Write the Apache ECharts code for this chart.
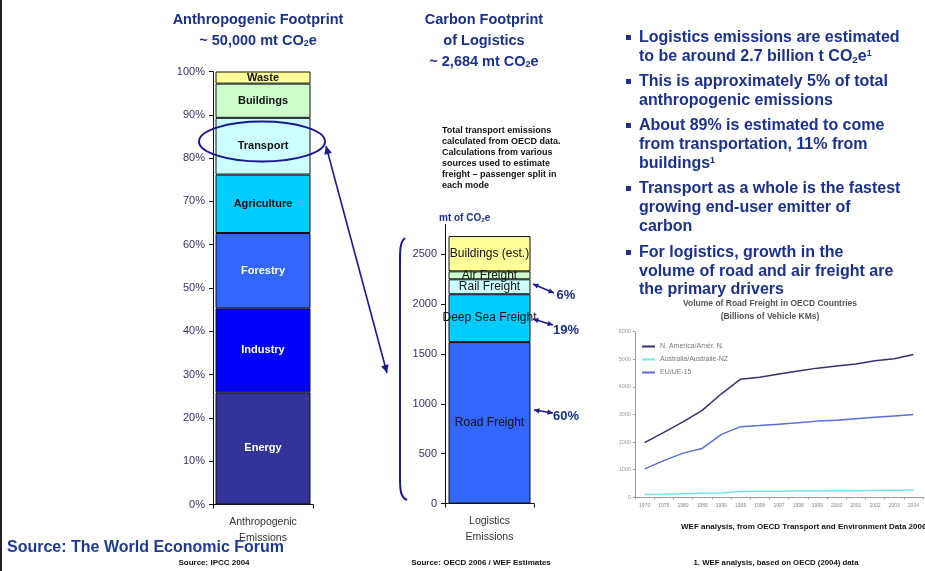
<!DOCTYPE html>
<html><head><meta charset="utf-8">
<script src="https://cdn.jsdelivr.net/npm/echarts@6/dist/echarts.min.js"></script>
<style>html,body{margin:0;padding:0;background:#fff}#c{width:925px;height:571px}</style>
</head><body><div id="c"></div><script>
// ---- data ----
const leftCategory = ['Anthropogenic\nEmissions'];
const leftNames = ['Energy','Industry','Forestry','Agriculture','Transport','Buildings','Waste'];
const leftValues = [25.9, 19.4, 17.4, 13.5, 13.1, 7.9, 2.8];

const rightCategory = ['Logistics\nEmissions'];
const rightNames = ['Road Freight','Deep Sea Freight','Rail Freight','Air Freight','Buildings (est.)'];
const rightValues = [1620, 480, 150, 80, 354];
const rightTicks = [0,500,1000,1500,2000,2500];
const shareLabels = ['6%','19%','60%'];

const years = ['1970','1975','1980','1985','1990','1995','1996','1997','1998','1999','2000','2001','2002','2003','2004'];
const lineNames = ['N. America/Amér. N.','Australia/Australie-NZ','EU/UE-15'];
const naValues = [1980, 2350, 2730, 3150, 3750, 4280, 4350, 4470, 4580, 4680, 4760, 4830, 4950, 5020, 5170];
const auValues = [100, 110, 130, 150, 160, 210, 215, 220, 225, 230, 235, 240, 250, 255, 260];
const euValues = [1030, 1330, 1600, 1770, 2280, 2560, 2600, 2650, 2700, 2760, 2790, 2850, 2900, 2950, 3000];

// ---- styling ----
const F = '"Liberation Sans", Arial, sans-serif';
const NAVY = '#1b318b';
const leftColors = ['#333399','#0000ff','#3366ff','#00ccff','#ccffff','#ccffcc','#ffff99'];
const leftLabelColors = ['#fff','#fff','#fff','#111','#111','#111','#111'];
const rightColors = ['#3366ff','#00ccff','#ccffff','#ccffcc','#ffff99'];
const lineColors = ['#33336e','#6ee6e6','#5b6fd6'];

function txt(text, x, y, opt) {
  return {type:'text', z:100, style: Object.assign({
    text, x, y, fill: NAVY, fontFamily: F, fontSize: 13, fontWeight: 'bold',
    textAlign: 'left', textVerticalAlign: 'middle'
  }, opt || {})};
}
const subRich = (fs) => ({
  sub: {fontSize: fs*0.62, fontWeight:'bold', fontFamily:F, fill:NAVY, lineHeight: fs*0.62, verticalAlign:'bottom'},
  sup: {fontSize: fs*0.55, fontWeight:'bold', fontFamily:F, fill:NAVY, lineHeight: fs*0.55, verticalAlign:'top'}
});
function arrowHead(x1,y1,x2,y2,size,color){
  const a = Math.atan2(y2-y1, x2-x1), s = 0.45;
  const p1 = [x2 - size*Math.cos(a-s), y2 - size*Math.sin(a-s)];
  const p2 = [x2 - size*Math.cos(a+s), y2 - size*Math.sin(a+s)];
  return {type:'polygon', z:100, shape:{points:[[x2,y2],p1,p2]}, style:{fill:color}};
}
function dblArrow(x1,y1,x2,y2,size,color,w){
  return [
    {type:'line', z:100, shape:{x1,y1,x2,y2}, style:{stroke:color, lineWidth:w}},
    arrowHead(x2,y2,x1,y1,size,color),
    arrowHead(x1,y1,x2,y2,size,color)
  ];
}

const graphics = [];
graphics.push({type:'rect', z:100, shape:{x:0,y:0,width:2,height:571}, style:{fill:'#222'}});
// titles
const TF = 14.5;
graphics.push(txt('Anthropogenic Footprint', 258, 20, {textAlign:'center', fontSize:TF}));
graphics.push(txt('~ 50,000 mt CO{sub|2}e', 258, 41, {textAlign:'center', fontSize:TF, rich: subRich(TF)}));
graphics.push(txt('Carbon Footprint', 484, 20, {textAlign:'center', fontSize:TF}));
graphics.push(txt('of Logistics', 484, 41, {textAlign:'center', fontSize:TF}));
graphics.push(txt('~ 2,684 mt CO{sub|2}e', 484, 62, {textAlign:'center', fontSize:TF, rich: subRich(TF)}));
// bullets
const bulletLines = [
  [38, 'Logistics emissions are estimated', true],
  [57, 'to be around 2.7 billion t CO{sub|2}e{sup|1}', false],
  [82, 'This is approximately 5% of total', true],
  [101, 'anthropogenic emissions', false],
  [126, 'About 89% is estimated to come', true],
  [145, 'from transportation, 11% from', false],
  [164, 'buildings{sup|1}', false],
  [189, 'Transport as a whole is the fastest', true],
  [208, 'growing end-user emitter of', false],
  [227, 'carbon', false],
  [253, 'For logistics, growth in the', true],
  [272, 'volume of road and air freight are', false],
  [290, 'the primary drivers', false]
];
const BF = 16;
bulletLines.forEach(([y, t, b]) => {
  if (b) graphics.push({type:'rect', z:100, shape:{x:626, y:y-3, width:5, height:5}, style:{fill:NAVY}});
  graphics.push(txt(t, 639, y, {fontSize:BF, rich: subRich(BF)}));
});
// note text
['Total transport emissions','calculated from OECD data.','Calculations from various','sources used to estimate','freight \u2013 passenger split in','each mode'].forEach((t,i)=>{
  graphics.push(txt(t, 442, 131 + i*11, {fontSize:9, fill:'#111'}));
});
graphics.push(txt('mt of CO{sub|2}e', 439, 218, {fontSize:10, rich: subRich(10)}));
// ellipse + big arrow
graphics.push({type:'ellipse', z:100, shape:{cx:262, cy:141.5, rx:63, ry:20}, style:{fill:'none', stroke:'#1a1a8c', lineWidth:2}});
graphics.push(...dblArrow(326,146,387,373,9,'#1a1a8c',1.6));
// brace
graphics.push({type:'bezierCurve', z:100, shape:{x1:405,y1:238,cpx1:400,cpy1:242,cpx2:400,cpy2:250,x2:400,y2:262}, style:{fill:'none', stroke:'#1a1a8c', lineWidth:2}});
graphics.push({type:'line', z:100, shape:{x1:400,y1:262,x2:400,y2:478}, style:{stroke:'#1a1a8c', lineWidth:2}});
graphics.push({type:'bezierCurve', z:100, shape:{x1:400,y1:478,cpx1:400,cpy1:492,cpx2:401,cpy2:497,x2:407,y2:500}, style:{fill:'none', stroke:'#1a1a8c', lineWidth:2}});
// percent arrows
const pctPos = [[533,284,554,293,566,295],[533,319,553,325,566,330],[534,410,553,413,566,416]];
pctPos.forEach((p,i)=>{
  graphics.push(...dblArrow(p[0],p[1],p[2],p[3],6,'#1a1a8c',1.6));
  graphics.push(txt(shareLabels[i], p[4], p[5], {textAlign:'center', fontSize:13}));
});
// line chart titles
graphics.push(txt('Volume of Road Freight in OECD Countries', 770, 304, {textAlign:'center', fontSize:8.5, fill:'#555'}));
graphics.push(txt('(Billions of Vehicle KMs)', 770, 316.5, {textAlign:'center', fontSize:8.5, fill:'#555'}));
// sources
graphics.push(txt('Source: The World Economic Forum', 7, 548, {fontSize:16, fill:'#1f3a93'}));
graphics.push(txt('Source: IPCC 2004', 214, 563, {textAlign:'center', fontSize:8, fill:'#111'}));
graphics.push(txt('Source: OECD 2006 / WEF Estimates', 481, 563, {textAlign:'center', fontSize:8, fill:'#111'}));
graphics.push(txt('1. WEF analysis, based on OECD (2004) data', 776, 563, {textAlign:'center', fontSize:7.8, fill:'#111'}));
graphics.push(txt('WEF analysis, from OECD Transport and Environment Data 2006', 681, 527, {fontSize:8, fill:'#111'}));

const series = [];
leftNames.forEach((n,i)=>{
  series.push({type:'bar', name:n, xAxisIndex:0, yAxisIndex:0, stack:'left', barWidth:95,
    data:[leftValues[i]],
    itemStyle:{color:leftColors[i], borderColor:'#111', borderWidth:1},
    label:{show:true, position:'inside', formatter:n, color:leftLabelColors[i], fontFamily:F, fontSize:11, fontWeight:'bold'}});
});
rightNames.forEach((n,i)=>{
  series.push({type:'bar', name:n, xAxisIndex:1, yAxisIndex:1, stack:'right', barWidth:82,
    data:[rightValues[i]],
    itemStyle:{color:rightColors[i], borderColor:'#111', borderWidth:1},
    label:{show:true, position:'inside', formatter:n, color:'#111', fontFamily:F, fontSize:12}});
});
[naValues, auValues, euValues].forEach((vals,i)=>{
  series.push({type:'line', name:lineNames[i], xAxisIndex:2, yAxisIndex:2, data:vals, symbol:'none',
    lineStyle:{color:lineColors[i], width:1.5}, itemStyle:{color:lineColors[i]}});
});

const plain = v => String(v);
const axisLab = {color:'#333366', fontFamily:F, fontSize:11};
const option = {
  animation:false,
  backgroundColor:'#fff',
  grid:[
    {left:213, top:71.5, width:100, height:433, containLabel:false},
    {left:445, top:224.5, width:89, height:279, containLabel:false},
    {left:635, top:331.7, width:288, height:165.6, containLabel:false}
  ],
  legend:{data:lineNames, orient:'vertical', left:642, top:343, itemWidth:13, itemHeight:2, itemGap:6, icon:'rect',
    textStyle:{fontSize:7, color:'#777', fontFamily:F}, padding:0},
  xAxis:[
    {type:'category', gridIndex:0, data:leftCategory,
      axisLine:{lineStyle:{color:'#111'}}, axisTick:{show:true, length:4, lineStyle:{color:'#111'}},
      axisLabel:{color:'#333', fontFamily:F, fontSize:10.5, lineHeight:16, margin:10}},
    {type:'category', gridIndex:1, data:rightCategory,
      axisLine:{lineStyle:{color:'#111'}}, axisTick:{show:true, length:4, lineStyle:{color:'#111'}},
      axisLabel:{color:'#333', fontFamily:F, fontSize:10.5, lineHeight:16, margin:10}},
    {type:'category', gridIndex:2, data:years, boundaryGap:true,
      axisLine:{lineStyle:{color:'#999'}}, axisTick:{show:true, length:2, lineStyle:{color:'#999'}},
      axisLabel:{color:'#888', fontFamily:F, fontSize:5, interval:0, margin:6}}
  ],
  yAxis:[
    {type:'value', gridIndex:0, min:0, max:100, interval:10, splitLine:{show:false},
      axisLine:{show:true, lineStyle:{color:'#111'}}, axisTick:{show:true, length:4, lineStyle:{color:'#111'}},
      axisLabel:Object.assign({formatter:'{value}%', margin:8}, axisLab)},
    {type:'value', gridIndex:1, min:0, max:2800, interval:500, splitLine:{show:false},
      axisLine:{show:true, lineStyle:{color:'#111'}},
      axisTick:{show:true, length:4, lineStyle:{color:'#111'}, customValues:rightTicks},
      axisLabel:Object.assign({margin:8, customValues:rightTicks, formatter:plain}, axisLab)},
    {type:'value', gridIndex:2, min:0, max:6000, interval:1000, splitLine:{show:false},
      axisLine:{show:true, lineStyle:{color:'#999'}}, axisTick:{show:true, length:2, lineStyle:{color:'#999'}},
      axisLabel:{color:'#999', fontFamily:F, fontSize:5.5, margin:4, formatter:plain}}
  ],
  series,
  graphic: graphics
};
const chart = echarts.init(document.getElementById('c'), null, {renderer:'canvas'});
chart.setOption(option);
</script></body></html>
